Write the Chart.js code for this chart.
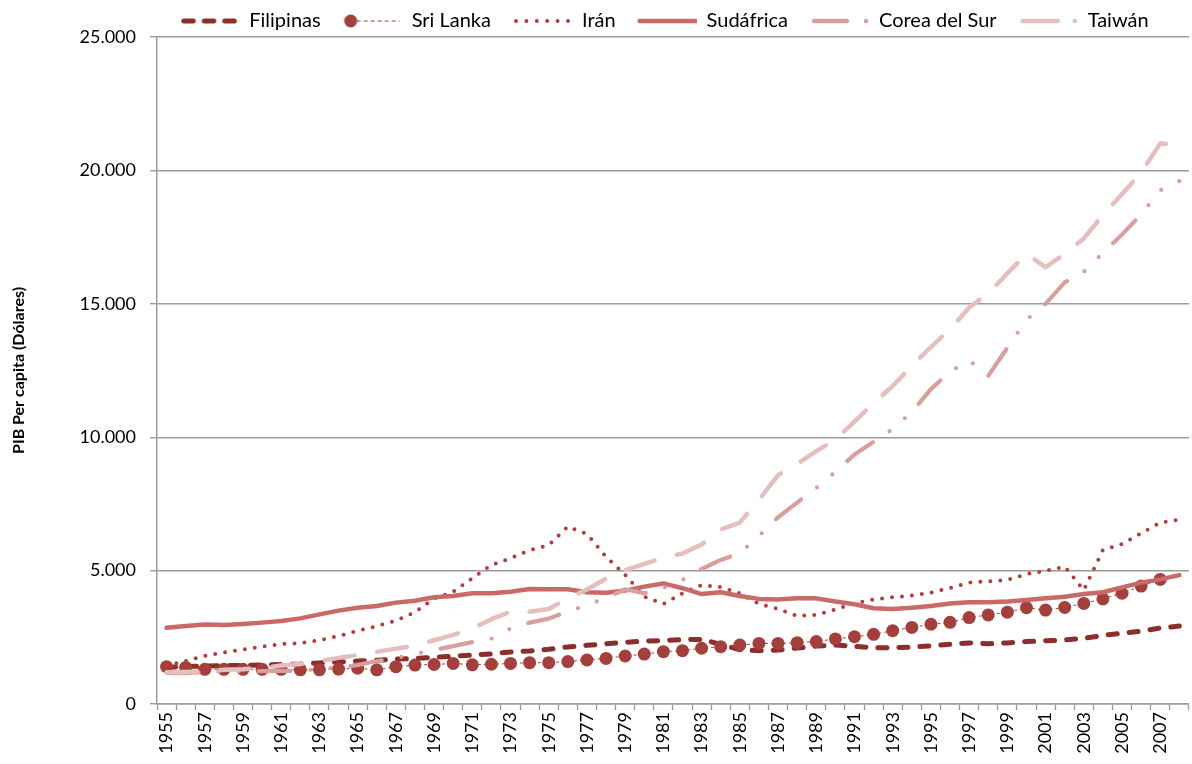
<!DOCTYPE html>
<html>
<head>
<meta charset="utf-8">
<script src="https://cdn.jsdelivr.net/npm/chart.js@4.4.1/dist/chart.umd.min.js"></script>
<style>
  html, body { margin: 0; padding: 0; background: #fff; overflow: hidden; }
</style>
</head>
<body>
<canvas id="chart" width="1203" height="764"></canvas>
<script>
// Data
const years = ['1955','1956','1957','1958','1959','1960','1961','1962','1963','1964',
  '1965','1966','1967','1968','1969','1970','1971','1972','1973','1974',
  '1975','1976','1977','1978','1979','1980','1981','1982','1983','1984',
  '1985','1986','1987','1988','1989','1990','1991','1992','1993','1994',
  '1995','1996','1997','1998','1999','2000','2001','2002','2003','2004',
  '2005','2006','2007','2008'];

const filipinas = [1380,1400,1420,1440,1450,1460,1480,1500,1540,1580,
  1610,1640,1680,1710,1750,1790,1830,1880,1950,1990,
  2050,2140,2200,2260,2310,2360,2380,2410,2420,2240,
  2030,2000,2020,2100,2170,2210,2160,2110,2110,2130,
  2180,2240,2290,2260,2290,2340,2370,2400,2460,2570,
  2650,2730,2850,2920];

// no 2008 marker is visible for Sri Lanka
const sriLanka = [1400,1370,1300,1300,1300,1300,1300,1280,1280,1310,
  1340,1280,1400,1460,1480,1520,1470,1490,1520,1550,
  1550,1590,1650,1710,1800,1870,1960,2000,2090,2150,
  2210,2270,2270,2300,2340,2440,2520,2610,2750,2870,
  2990,3060,3240,3340,3440,3610,3520,3620,3770,3940,
  4150,4420,4670,null];

const iran = [1450,1610,1800,1930,2040,2150,2250,2280,2390,2550,
  2740,2920,3120,3440,3950,4210,4710,5210,5460,5770,
  5950,6650,6370,5520,4840,4020,3750,4150,4460,4380,
  4150,3750,3570,3300,3340,3540,3770,3920,4000,4070,
  4170,4350,4550,4600,4650,4870,4990,5150,4270,5770,
  6000,6400,6800,6910];

const sudafrica = [2860,2920,2980,2960,3000,3050,3110,3210,3360,3500,
  3610,3670,3800,3870,4000,4050,4150,4150,4210,4310,
  4300,4300,4190,4170,4250,4400,4520,4340,4120,4190,
  4050,3940,3920,3960,3960,3840,3740,3590,3560,3610,
  3670,3770,3810,3810,3840,3900,3960,4020,4120,4190,
  4370,4550,4670,4830];

const corea = [1170,1160,1200,1220,1220,1230,1240,1250,1310,1370,
  1460,1610,1720,1880,2030,2170,2320,2450,2830,3050,
  3200,3470,3700,3980,4300,4150,4350,4650,5060,5400,
  5650,6300,7000,7550,8100,8700,9350,9830,10300,10950,
  11800,12450,12880,12300,13350,14400,15000,15800,16200,16900,
  17600,18350,19250,19600];

const taiwan = [1190,1200,1220,1280,1300,1350,1440,1500,1600,1730,
  1830,1960,2070,2180,2390,2590,2830,3180,3460,3460,
  3560,3960,4290,4700,5020,5250,5490,5640,5980,6540,
  6800,7650,8580,9000,9480,9910,10580,11280,11920,12670,
  13380,14050,14860,15390,16140,16870,16370,16870,17450,18330,
  19110,19920,21010,20970];

const C = {
  fil: '#8c2e2c',
  sri: '#a33f3c',
  ira: '#ad3f3e',
  sud: '#c96a69',
  cor: '#d8a09d',
  tai: '#e5bfbd'
};
const GRID = '#9b9b9b';

Chart.defaults.font.family = 'Lato, "Open Sans", sans-serif';
Chart.defaults.color = '#000';

// Legend symbols, drawn into small canvases used as point styles
function symbol(draw){
  const c = document.createElement('canvas');
  c.width = 70; c.height = 22;
  const g = c.getContext('2d');
  g.lineCap = 'round';
  draw(g, 11);
  return c;
}
const symbols = [
  symbol((g,y)=>{ g.strokeStyle=C.fil; g.lineWidth=5; g.setLineDash([9.5,11]); g.beginPath(); g.moveTo(14.5,y); g.lineTo(66,y); g.stroke(); }),
  symbol((g,y)=>{ g.strokeStyle=C.sri; g.lineWidth=1.2; g.lineCap='butt'; g.setLineDash([4,3]); g.beginPath(); g.moveTo(25,y); g.lineTo(68,y); g.stroke();
                  g.fillStyle=C.sri; g.beginPath(); g.arc(19,y,6.5,0,Math.PI*2); g.fill(); }),
  symbol((g,y)=>{ g.strokeStyle=C.ira; g.lineWidth=4; g.setLineDash([0,10.4]); g.beginPath(); g.moveTo(14,y); g.lineTo(67,y); g.stroke(); }),
  symbol((g,y)=>{ g.strokeStyle=C.sud; g.lineWidth=4.5; g.beginPath(); g.moveTo(13,y); g.lineTo(69,y); g.stroke(); }),
  symbol((g,y)=>{ g.strokeStyle=C.cor; g.lineWidth=4.5; g.setLineDash([33,19,0,40]); g.beginPath(); g.moveTo(15,y); g.lineTo(68,y); g.stroke(); }),
  symbol((g,y)=>{ g.strokeStyle=C.tai; g.lineWidth=4.5; g.setLineDash([35,17,0,40]); g.beginPath(); g.moveTo(15,y); g.lineTo(68,y); g.stroke(); })
];

// Keep the legend 37px tall and centre it over the plot like the original
const legendFix = {
  id: 'legendFix',
  beforeUpdate(chart){
    const lg = chart.legend;
    if(lg && !lg._fixed){
      const fit = lg.fit.bind(lg);
      lg.fit = function(){ fit(); this.height = 37; };
      lg._fixed = true;
    }
  },
  afterLayout(chart){
    const lg = chart.legend, ca = chart.chartArea;
    const c = (ca.left + ca.right)/2 - 14;
    const half = (lg.right - lg.left)/2;
    lg.left = c - half; lg.right = c + half;
  }
};

const base = { pointRadius:0, borderCapStyle:'round', borderJoinStyle:'round', tension:0, fill:false };

new Chart(document.getElementById('chart'), {
  type: 'line',
  data: {
    labels: years,
    datasets: [
      { ...base, label:'Filipinas', data:filipinas, borderColor:C.fil, borderWidth:5, borderDash:[9,12], order:6 },
      { ...base, label:'Sri Lanka', data:sriLanka, borderColor:C.sri, borderWidth:1, borderDash:[3,3], borderCapStyle:'butt',
        pointRadius:6.5, pointBackgroundColor:C.sri, pointBorderWidth:0, order:5 },
      { ...base, label:'Irán', data:iran, borderColor:C.ira, borderWidth:4, borderDash:[0,10], order:4 },
      { ...base, label:'Sudáfrica', data:sudafrica, borderColor:C.sud, borderWidth:4.5, order:3 },
      { ...base, label:'Corea del Sur', data:corea, borderColor:C.cor, borderWidth:4.2, borderDash:[32,20,0,20,0,20], order:2 },
      { ...base, label:'Taiwán', data:taiwan, borderColor:C.tai, borderWidth:4.5, borderDash:[30,23], order:1 }
    ]
  },
  options: {
    responsive: false,
    animation: false,
    events: [],
    layout: { padding: { top:0, right:2, bottom:0, left:0 } },
    plugins: {
      tooltip: { enabled:false },
      legend: {
        position: 'top',
        align: 'center',
        labels: {
          usePointStyle: true,
          pointStyleWidth: 70,
          padding: 11,
          font: { size: 20 },
          color: '#000',
          generateLabels(chart){
            return chart.data.datasets.map((ds,i)=>({
              text: ds.label, datasetIndex: i, pointStyle: symbols[i],
              fillStyle: ds.borderColor, strokeStyle: ds.borderColor, lineWidth: 0,
              fontColor: '#000', hidden: false
            }));
          }
        }
      }
    },
    scales: {
      x: {
        type: 'category',
        offset: true,
        afterFit(s){ s.height = 60; },
        grid: { offset:true, drawOnChartArea:false, drawTicks:true, tickLength:6, color:GRID, tickColor:GRID, tickWidth:1.3 },
        border: { display:true, color:GRID, width:1.5 },
        ticks: {
          autoSkip: false, minRotation: 90, maxRotation: 90, padding: 2,
          font: { size: 18 }, color: '#000',
          callback(v, i){ return i % 2 === 0 ? years[i] : ''; }
        }
      },
      y: {
        min: 0, max: 25000,
        afterFit(s){ s.width = 157; },
        grid: { color:GRID, lineWidth:1.4, tickLength:7, tickColor:GRID },
        border: { display:true, color:GRID, width:1.5 },
        ticks: {
          stepSize: 5000, padding: 14, font: { size: 18 }, color: '#000',
          callback(v){ return String(v).replace(/\B(?=(\d{3})+(?!\d))/g, '.'); }
        },
        title: {
          display: true, text: 'PIB Per capita (Dólares)', color: '#000',
          font: { size: 16, weight: 'bold' }, padding: { top: 9, bottom: 0 }
        }
      }
    }
  },
  plugins: [legendFix]
});
</script>
</body>
</html>
